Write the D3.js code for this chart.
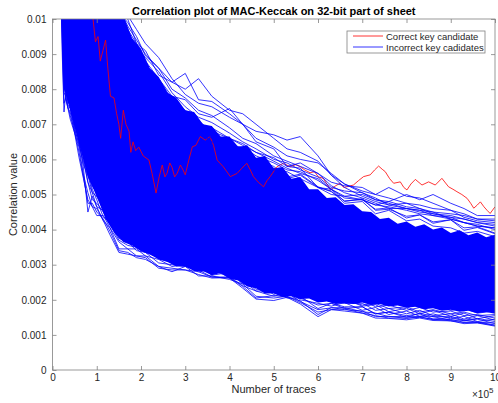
<!DOCTYPE html>
<html>
<head>
<meta charset="utf-8">
<script src="https://cdn.jsdelivr.net/npm/d3@7"></script>
<style>
  body { margin: 0; background: #fff; }
  svg { font-family: "Liberation Sans", Arial, sans-serif; }
</style>
</head>
<body>
<div id="chart"></div>
<script>
// x is in 1e5 traces, correlation values are in 1e-3
const xTicks = [0, 1, 2, 3, 4, 5, 6, 7, 8, 9, 10];
const yTicks = [0, 1, 2, 3, 4, 5, 6, 7, 8, 9, 10];
const yTickLabels = ["0", "0.001", "0.002", "0.003", "0.004", "0.005", "0.006", "0.007", "0.008", "0.009", "0.01"];

// correct key candidate
const redX = [0.90, 0.97, 1.03, 1.08, 1.14, 1.2, 1.25, 1.31, 1.39, 1.45, 1.5, 1.54, 1.6, 1.66, 1.73, 1.77, 1.82, 1.88, 1.95, 2.05,
  2.18, 2.25, 2.34, 2.41, 2.48, 2.54, 2.59, 2.65, 2.7, 2.76, 2.82, 2.89, 2.95, 3.0, 3.08, 3.16, 3.24, 3.34, 3.45, 3.56,
  3.64, 3.72, 3.86, 4.02, 4.17, 4.28, 4.39, 4.47, 4.54, 4.65, 4.77, 4.85, 4.92, 5.07, 5.22, 5.37, 5.5, 5.6, 5.7, 5.82,
  5.92, 6.01, 6.12, 6.2, 6.28, 6.4, 6.5, 6.58, 6.65, 6.8, 6.92, 7.03, 7.18, 7.28, 7.37, 7.45, 7.52, 7.62, 7.71, 7.86,
  7.94, 8.01, 8.1, 8.2, 8.35, 8.5, 8.65, 8.8, 8.95, 9.05, 9.14, 9.25, 9.37, 9.45, 9.52, 9.6, 9.67, 9.75, 9.82, 9.89, 10.0];
const redY = [10.2, 9.35, 9.5, 8.8, 9.1, 9.4, 8.6, 7.8, 7.75, 7.3, 7.0, 6.6, 7.4, 7.0, 6.8, 6.2, 6.5, 6.25, 6.35, 6.1,
  5.98, 5.6, 5.04, 5.5, 5.84, 5.5, 5.61, 5.9, 5.78, 5.5, 5.61, 5.84, 5.7, 5.56, 5.98, 6.36, 6.4, 6.65, 6.55, 6.65,
  6.4, 5.98, 5.79, 5.51, 5.6, 5.75, 5.89, 5.7, 5.51, 5.35, 5.22, 5.4, 5.51, 5.79, 5.89, 5.79, 5.85, 5.79, 5.7, 5.62,
  5.65, 5.5, 5.46, 5.3, 5.13, 5.25, 5.32, 5.2, 5.22, 5.27, 5.4, 5.51, 5.56, 5.7, 5.81, 5.72, 5.65, 5.45, 5.32, 5.36,
  5.2, 5.13, 5.3, 5.43, 5.27, 5.36, 5.27, 5.46, 5.22, 5.15, 5.08, 5.0, 4.89, 4.75, 4.61, 4.7, 4.79, 4.65, 4.55, 4.46, 4.65];

// the solid bulk of the 255 wrong candidates (ragged top and bottom edge)
const coreX = [0.18, 0.22, 0.26, 0.3, 0.4, 0.6, 0.8, 1.0, 1.2, 1.4, 1.6, 1.8, 2.0, 2.2, 2.4, 2.6, 2.8, 3.0, 3.2, 3.4, 3.6,
  3.8, 4.0, 4.2, 4.4, 4.6, 4.8, 5.0, 5.2, 5.4, 5.6, 5.8, 6.0, 6.2, 6.4, 6.6, 6.8, 7.0, 7.2, 7.4, 7.6, 7.8, 8.0, 8.2, 8.4,
  8.6, 8.8, 9.0, 9.2, 9.4, 9.6, 9.8, 10.0];
const coreTop = [11, 11, 11, 11, 11, 11, 11, 11, 11, 10.5, 10.1, 9.45, 9.15, 8.6, 8.35, 7.9, 7.75, 7.4, 7.35, 7.0, 6.95,
  6.65, 6.65, 6.35, 6.4, 6.05, 6.1, 5.75, 5.78, 5.45, 5.5, 5.15, 5.15, 4.9, 4.92, 4.7, 4.72, 4.52, 4.5, 4.3, 4.34, 4.17, 4.23,
  4.08, 4.15, 4.0, 4.06, 3.9, 3.98, 3.84, 3.92, 3.78, 3.85];
const coreBottom = [11, 9.2, 8.0, 7.85, 7.4, 6.45, 5.5, 4.95, 4.3, 3.9, 3.65, 3.55, 3.38, 3.3, 3.15, 3.08, 2.95, 2.95, 2.82, 2.82, 2.7,
  2.76, 2.6, 2.55, 2.38, 2.33, 2.18, 2.18, 2.08, 2.1, 2.02, 2.04, 1.92, 1.95, 1.88, 1.9, 1.88, 1.92, 1.85, 1.88, 1.81, 1.84,
  1.77, 1.8, 1.73, 1.76, 1.69, 1.72, 1.66, 1.69, 1.62, 1.65, 1.6];

// loose traces: shared x grid
const blueX = [0.18, 0.22, 0.26, 0.3, 0.35, 0.4, 0.5, 0.6, 0.7, 0.8, 0.9, 1.0, 1.15, 1.3, 1.5, 1.7, 1.9, 2.1, 2.4, 2.7, 3.0,
  3.3, 3.6, 4.0, 4.3, 4.6, 5.0, 5.3, 5.6, 6.0, 6.3, 6.6, 7.0, 7.3, 7.6, 8.0, 8.3, 8.6, 9.0, 9.3, 9.6, 10];

// outlying traces above the bulk
const blueHi1 = [18, 17, 16, 15.5, 15, 14.5, 14, 13.5, 13, 12.6, 12.2, 11.8, 11.2, 10.9, 10.4, 10.0, 9.3, 9.1, 8.4, 8.2, 8.45,
  7.7, 7.65, 7.3, 7.0, 6.5, 6.3, 5.8, 5.75, 5.2, 5.1, 4.75, 4.8, 4.45, 4.55, 4.25, 4.3, 4.1, 4.05, 3.9, 3.95, 3.8];
const blueHi2 = [17, 16, 15.4, 15, 14.5, 14, 13.5, 13, 12.6, 12.2, 11.8, 11.4, 11.0, 10.6, 10.1, 9.7, 9.3, 8.8, 8.3, 7.8, 7.7,
  7.3, 7.2, 7.45, 7.0, 6.8, 6.7, 6.55, 6.65, 6.1, 5.55, 5.3, 5.05, 4.85, 4.75, 4.6, 4.55, 4.4, 4.35, 4.2, 4.15, 4.0];
const blueHi3 = [16, 15.4, 15, 14.5, 14, 13.5, 13, 12.6, 12.2, 11.8, 11.4, 11.1, 10.8, 10.3, 9.8, 9.4, 8.9, 8.6, 8.0, 7.7, 7.4,
  7.1, 6.8, 6.6, 6.4, 6.2, 6.05, 5.8, 5.9, 5.6, 5.35, 5.25, 5.2, 5.0, 5.2, 4.95, 4.9, 4.75, 4.55, 4.35, 4.25, 4.2];
const blueHi4 = [15, 14.6, 14.2, 13.8, 13.4, 13, 12.6, 12.2, 11.8, 11.5, 11.2, 10.9, 10.6, 10.2, 9.6, 9.3, 8.8, 8.4, 7.9, 7.5, 7.2,
  7.0, 6.65, 6.4, 6.35, 6.1, 5.9, 5.7, 5.65, 5.4, 5.15, 4.9, 4.85, 4.7, 4.8, 4.65, 4.6, 4.5, 4.3, 4.2, 4.1, 4.05];
const blueHi5 = [16, 15, 14.5, 14, 13.4, 12.9, 12.4, 12, 11.6, 11.3, 11, 10.8, 10.5, 10.0, 9.5, 9.0, 8.7, 8.2, 7.8, 7.3, 7.1,
  6.8, 6.5, 6.3, 6.1, 5.85, 5.7, 5.65, 5.45, 5.2, 5.0, 4.95, 5.0, 4.85, 4.8, 5.0, 4.85, 5.0, 4.75, 4.6, 4.4, 4.4];
const blueHi6 = [19, 18, 17, 16.4, 15.8, 15.2, 14.6, 14, 13.4, 12.8, 12.2, 11.6, 11.0, 10.7, 10.3, 9.8, 9.4, 9.0, 8.6, 8.0, 7.75,
  7.4, 7.25, 6.9, 6.6, 6.45, 6.1, 5.95, 5.8, 5.6, 5.25, 5.05, 4.9, 4.75, 4.6, 4.6, 4.55, 4.5, 4.45, 4.4, 4.3, 4.25];
const blueHi7 = [14, 13.6, 13.2, 12.8, 12.4, 12, 11.6, 11.3, 11, 10.8, 10.6, 10.4, 10.2, 9.8, 9.5, 9.1, 8.7, 8.4, 8.0, 7.5, 7.0,
  6.85, 6.6, 6.3, 6.05, 5.9, 5.75, 5.45, 5.55, 5.2, 5.15, 4.8, 4.88, 4.55, 4.58, 4.38, 4.42, 4.22, 4.28, 4.05, 4.08, 3.9];
const blueHi8 = [20, 19, 18, 17, 16, 15.4, 14.8, 14.2, 13.6, 13, 12.4, 11.8, 11.3, 10.9, 10.5, 10.1, 9.7, 9.3, 8.9, 8.3, 7.85,
  7.6, 7.5, 7.2, 7.0, 6.6, 6.35, 6.1, 6.0, 5.9, 5.6, 5.3, 5.1, 5.0, 4.9, 4.75, 4.7, 4.6, 4.55, 4.45, 4.3, 4.3];
const blueHi9 = [15, 14.4, 14, 13.6, 13.2, 12.8, 12.4, 12, 11.6, 11.3, 11, 10.7, 10.4, 10.0, 9.6, 9.1, 8.8, 8.5, 8.15, 7.6, 7.35,
  6.9, 6.7, 6.5, 6.2, 6.0, 5.8, 5.5, 5.58, 5.22, 5.08, 4.82, 4.85, 4.58, 4.62, 4.33, 4.42, 4.18, 4.28, 3.98, 4.06, 3.88];
const blueHi10 = [17, 16.4, 15.8, 15.2, 14.6, 14, 13.4, 12.9, 12.4, 12, 11.6, 11.2, 10.9, 10.5, 10.0, 9.6, 9.2, 8.9, 8.5, 7.9, 7.5,
  7.2, 7.05, 6.75, 6.5, 6.3, 6.0, 5.9, 5.7, 5.5, 5.2, 5.1, 5.05, 4.9, 4.7, 4.75, 4.6, 4.45, 4.4, 4.3, 4.2, 4.15];
const blueHi11 = [18, 17.2, 16.5, 15.8, 15.2, 14.6, 14, 13.4, 12.9, 12.4, 12, 11.6, 11.1, 10.8, 10.2, 9.9, 9.5, 8.95, 8.6, 8.2, 8.0,
  8.3, 7.8, 7.4, 7.3, 7.0, 6.6, 6.3, 6.2, 5.95, 5.55, 5.2, 4.95, 4.8, 4.7, 4.6, 4.5, 4.45, 4.35, 4.3, 4.2, 4.1];
const blueHi12 = [16, 15.5, 15, 14.5, 14, 13.5, 13, 12.5, 12.1, 11.7, 11.4, 11.1, 10.7, 10.4, 9.9, 9.5, 9.05, 8.7, 8.3, 7.7, 7.3,
  7.0, 6.9, 6.6, 6.45, 6.2, 5.95, 5.75, 5.6, 5.45, 5.15, 4.95, 4.85, 4.7, 4.65, 4.55, 4.45, 4.4, 4.3, 4.2, 4.1, 4.05];

// outlying traces below the bulk
const blueLo1 = [12, 9.0, 7.35, 7.9, 7.55, 7.45, 6.85, 6.45, 5.85, 5.55, 5.05, 4.95, 4.55, 4.35, 3.95, 3.85, 3.65, 3.55, 3.25, 3.25, 3.05,
  3.05, 2.85, 2.8, 2.55, 2.55, 2.3, 2.3, 2.15, 2.15, 1.95, 2.0, 1.85, 1.9, 1.75, 1.8, 1.65, 1.72, 1.6, 1.65, 1.55, 1.58];
const blueLo2 = [13, 10, 8.2, 7.7, 7.45, 7.15, 6.75, 6.05, 5.45, 4.85, 4.65, 4.4, 4.4, 4.05, 3.65, 3.45, 3.45, 3.25, 3.15, 2.95, 3.0,
  2.8, 2.85, 2.65, 2.55, 2.25, 2.25, 2.05, 2.05, 1.85, 1.9, 1.75, 1.8, 1.6, 1.65, 1.55, 1.6, 1.45, 1.5, 1.4, 1.45, 1.32];
const blueLo3 = [12, 9.8, 8.4, 8.0, 7.65, 7.55, 6.95, 6.55, 5.75, 4.5, 4.95, 4.65, 4.25, 3.85, 3.35, 3.3, 3.25, 3.2, 2.9, 2.85, 2.85,
  2.72, 2.62, 2.63, 2.38, 2.05, 2.12, 2.08, 1.97, 1.58, 1.78, 1.72, 1.68, 1.52, 1.53, 1.47, 1.52, 1.43, 1.44, 1.36, 1.37, 1.28];
const blueLo4 = [14, 10.5, 8.8, 8.3, 7.95, 7.75, 7.15, 6.75, 6.15, 5.65, 5.15, 4.85, 4.35, 4.25, 3.75, 3.65, 3.4, 3.35, 3.05, 3.0, 2.95,
  2.85, 2.65, 2.62, 2.33, 2.02, 1.98, 2.07, 1.88, 1.52, 1.72, 1.68, 1.62, 1.48, 1.47, 1.43, 1.48, 1.41, 1.4, 1.32, 1.34, 1.25];
const blueLo5 = [13, 10.2, 8.5, 8.1, 7.85, 7.55, 7.15, 6.55, 6.05, 5.35, 5.05, 4.65, 4.55, 4.2, 4.0, 3.65, 3.65, 3.4, 3.3, 3.05, 3.15,
  2.9, 2.9, 2.65, 2.6, 2.3, 2.3, 2.15, 2.1, 1.75, 1.9, 1.8, 1.8, 1.6, 1.65, 1.5, 1.62, 1.52, 1.53, 1.42, 1.47, 1.38];
const blueLo6 = [15, 10.8, 9.0, 8.5, 8.15, 7.75, 7.35, 6.75, 6.35, 5.75, 5.55, 5.15, 4.95, 4.55, 4.35, 3.95, 3.9, 3.65, 3.5, 3.25, 3.3,
  3.05, 3.05, 2.8, 2.8, 2.55, 2.5, 2.3, 2.35, 2.05, 2.1, 1.95, 2.0, 1.8, 1.85, 1.7, 1.78, 1.65, 1.68, 1.55, 1.58, 1.48];
const blueLo7 = [12, 9.5, 7.9, 7.8, 7.45, 7.35, 6.75, 6.35, 5.55, 5.05, 4.65, 4.6, 4.25, 4.05, 3.45, 3.45, 3.25, 3.25, 2.95, 2.9, 2.85,
  2.8, 2.65, 2.65, 2.4, 2.25, 2.1, 2.2, 1.95, 1.72, 1.77, 1.78, 1.66, 1.62, 1.52, 1.53, 1.52, 1.52, 1.42, 1.42, 1.36, 1.34];
const blueLo8 = [14, 10.4, 8.7, 8.2, 7.95, 7.55, 7.15, 6.55, 6.15, 5.55, 5.35, 4.95, 4.75, 4.4, 4.15, 3.85, 3.85, 3.55, 3.45, 3.2, 3.25,
  3.0, 3.0, 2.75, 2.75, 2.45, 2.45, 2.25, 2.25, 1.95, 2.0, 1.9, 1.9, 1.7, 1.75, 1.6, 1.7, 1.55, 1.6, 1.45, 1.55, 1.42];
const blueLo9 = [13, 10.0, 8.4, 8.05, 7.7, 7.5, 6.9, 6.4, 5.95, 5.35, 4.85, 4.75, 4.5, 4.15, 3.7, 3.55, 3.5, 3.35, 3.2, 3.05, 3.05,
  3.0, 2.7, 2.78, 2.45, 2.48, 2.15, 2.32, 2.0, 1.9, 1.82, 1.92, 1.7, 1.78, 1.58, 1.68, 1.53, 1.6, 1.46, 1.53, 1.38, 1.45];
const blueLo10 = [14, 10.6, 8.9, 8.4, 8.05, 7.7, 7.2, 6.7, 6.2, 5.7, 5.25, 5.05, 4.65, 4.45, 4.05, 3.9, 3.75, 3.6, 3.4, 3.2, 3.15,
  3.1, 2.88, 2.86, 2.58, 2.56, 2.33, 2.42, 2.18, 2.06, 1.94, 2.02, 1.82, 1.86, 1.66, 1.76, 1.6, 1.7, 1.53, 1.62, 1.46, 1.55];
const blueLo11 = [12, 9.3, 7.6, 7.75, 7.5, 7.25, 6.8, 6.2, 5.5, 4.75, 4.75, 4.5, 4.3, 3.95, 3.4, 3.35, 3.2, 3.15, 2.95, 2.8, 2.95,
  2.68, 2.68, 2.58, 2.45, 2.1, 2.05, 2.1, 1.92, 1.65, 1.72, 1.74, 1.62, 1.55, 1.48, 1.48, 1.5, 1.45, 1.4, 1.35, 1.35, 1.27];
const blueLo12 = [15, 10.9, 9.1, 8.6, 8.2, 7.85, 7.4, 6.9, 6.45, 5.95, 5.55, 5.3, 5.0, 4.7, 4.4, 4.15, 3.95, 3.8, 3.55, 3.4, 3.35,
  3.25, 3.02, 2.98, 2.78, 2.72, 2.48, 2.5, 2.3, 2.26, 2.08, 2.14, 1.98, 2.02, 1.86, 1.92, 1.78, 1.86, 1.7, 1.76, 1.62, 1.68];

const blueSeries = [blueHi1, blueHi2, blueHi3, blueHi4, blueHi5, blueHi6, blueHi7, blueHi8, blueHi9, blueHi10, blueHi11, blueHi12,
  blueLo1, blueLo2, blueLo3, blueLo4, blueLo5, blueLo6, blueLo7, blueLo8, blueLo9, blueLo10, blueLo11, blueLo12];

const margin = { top: 19, right: 3, bottom: 33, left: 52.5 };
const width = 498 - margin.left - margin.right;
const height = 403 - margin.top - margin.bottom;
const axisGray = "#808080";
const textColor = "#262626";

const svg = d3.select("#chart")
  .append("svg")
  .attr("width", 498)
  .attr("height", 403);

const g = svg.append("g")
  .attr("transform", "translate(" + margin.left + "," + margin.top + ")");

const xScale = d3.scaleLinear().domain([0, 10]).range([0, width]);
const yScale = d3.scaleLinear().domain([0, 10]).range([height, 0]);

g.append("clipPath").attr("id", "plot-clip")
  .append("rect").attr("width", width).attr("height", height);

const plot = g.append("g").attr("clip-path", "url(#plot-clip)");

// bulk of the wrong candidates
const core = coreX.map((x, i) => ({ x: x, top: coreTop[i], bottom: coreBottom[i] }));
plot.append("path")
  .datum(core)
  .attr("fill", "#0000ff")
  .attr("d", d3.area()
    .x(d => xScale(d.x))
    .y0(d => yScale(d.bottom))
    .y1(d => yScale(d.top)));

// red line sits below the loose blue traces
const redData = redX.map((x, i) => ({ x: x, y: redY[i] }));
const line = d3.line()
  .defined(d => d.y != null)
  .x(d => xScale(d.x))
  .y(d => yScale(d.y));

plot.append("path")
  .datum(redData)
  .attr("fill", "none")
  .attr("stroke", "#ff0000")
  .attr("stroke-width", 0.8)
  .attr("d", line);

plot.selectAll(".blue")
  .data(blueSeries)
  .join("path")
  .attr("class", "blue")
  .attr("fill", "none")
  .attr("stroke", "#0000ff")
  .attr("stroke-width", 0.8)
  .attr("d", s => line(blueX.map((x, i) => ({ x: x, y: s[i] }))));

// axes, matlab style: ticks point inward on all four sides
function styleAxis(sel) {
  sel.select(".domain").remove();
  sel.selectAll(".tick line").attr("stroke", axisGray).attr("stroke-width", 0.8);
  sel.selectAll(".tick text").attr("fill", textColor).style("font-size", "10px")
    .style("font-family", "'Liberation Sans', Arial, sans-serif");
}

g.append("g")
  .attr("transform", "translate(0," + height + ")")
  .call(d3.axisBottom(xScale).tickValues(xTicks).tickSizeInner(-4).tickSizeOuter(0).tickPadding(4)
    .tickFormat(d => String(d)))
  .call(styleAxis);

g.append("g")
  .call(d3.axisTop(xScale).tickValues(xTicks).tickSizeInner(-4).tickSizeOuter(0).tickFormat(""))
  .call(styleAxis);

g.append("g")
  .call(d3.axisLeft(yScale).tickValues(yTicks).tickSizeInner(-4).tickSizeOuter(0).tickPadding(6)
    .tickFormat((d, i) => yTickLabels[i]))
  .call(styleAxis);

g.append("g")
  .attr("transform", "translate(" + width + ",0)")
  .call(d3.axisRight(yScale).tickValues(yTicks).tickSizeInner(-4).tickSizeOuter(0).tickFormat(""))
  .call(styleAxis);

g.append("rect")
  .attr("width", width)
  .attr("height", height)
  .attr("fill", "none")
  .attr("stroke", axisGray)
  .attr("stroke-width", 0.8);

// labels
svg.append("text")
  .attr("x", margin.left + width / 2)
  .attr("y", 15)
  .attr("text-anchor", "middle")
  .attr("fill", "#000")
  .style("font-size", "11px")
  .style("font-weight", "bold")
  .text("Correlation plot of MAC-Keccak on 32-bit part of sheet");

svg.append("text")
  .attr("x", margin.left + width / 2)
  .attr("y", 393)
  .attr("text-anchor", "middle")
  .attr("fill", textColor)
  .style("font-size", "11px")
  .text("Number of traces");

svg.append("text")
  .attr("transform", "translate(17," + (margin.top + height / 2) + ") rotate(-90)")
  .attr("text-anchor", "middle")
  .attr("fill", textColor)
  .style("font-size", "11px")
  .text("Correlation value");

const expo = svg.append("text")
  .attr("x", 472)
  .attr("y", 398)
  .attr("fill", textColor)
  .style("font-size", "10px");
expo.append("tspan").text("\u00d710");
expo.append("tspan").attr("dy", -5).style("font-size", "8px").text("5");

// legend
const legend = svg.append("g").attr("transform", "translate(347,31)");
legend.append("rect")
  .attr("width", 138)
  .attr("height", 22)
  .attr("fill", "#fff")
  .attr("stroke", axisGray)
  .attr("stroke-width", 0.8);

const legendItems = [
  { label: "Correct key candidate", color: "#ff0000" },
  { label: "Incorrect key cadidates", color: "#0000ff" }
];
legendItems.forEach((item, i) => {
  const yy = 5 + i * 11;
  legend.append("line")
    .attr("x1", 6).attr("x2", 36)
    .attr("y1", yy).attr("y2", yy)
    .attr("stroke", item.color)
    .attr("stroke-width", 0.8);
  legend.append("text")
    .attr("x", 39)
    .attr("y", yy + 3.5)
    .attr("fill", textColor)
    .style("font-size", "9.5px")
    .text(item.label);
});
</script>
</body>
</html>
